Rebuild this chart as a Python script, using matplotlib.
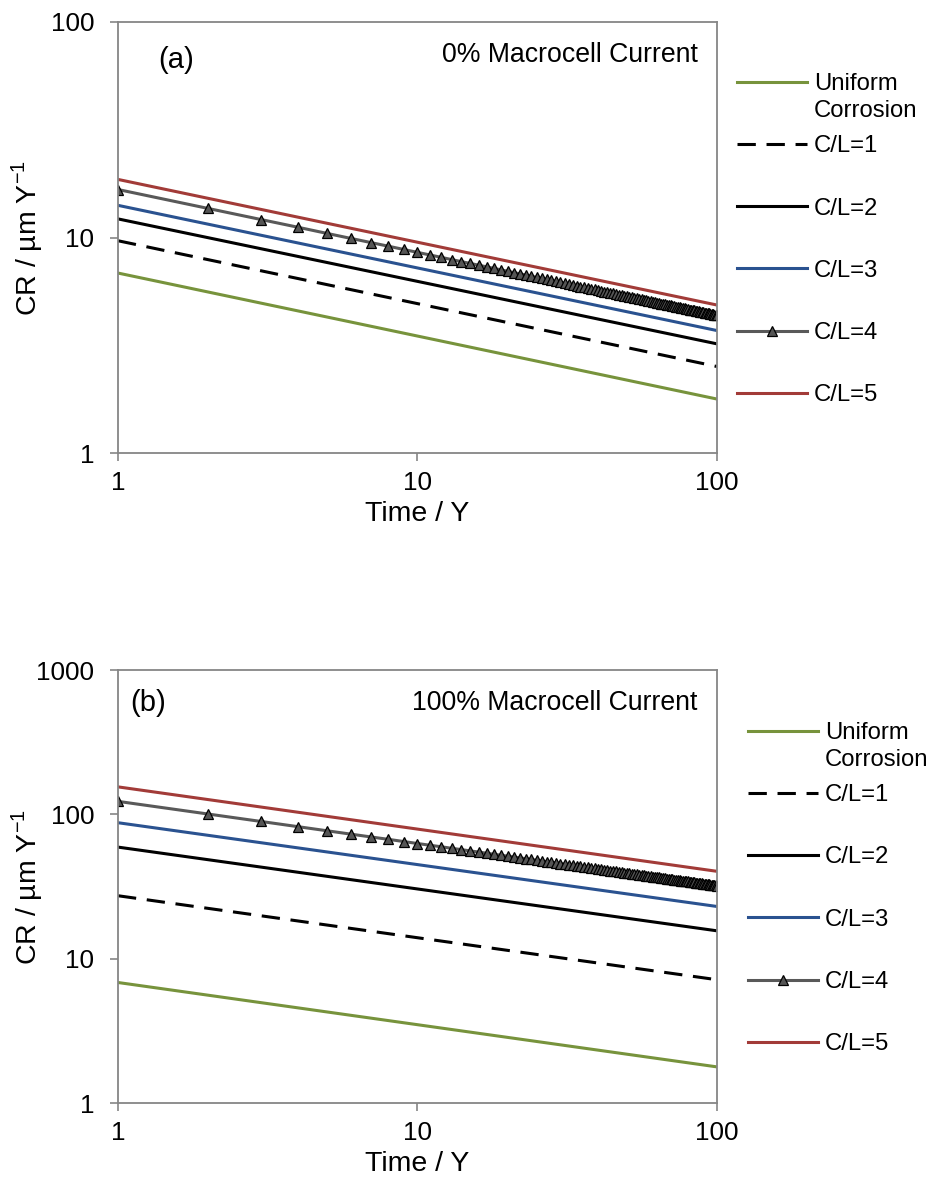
import matplotlib
matplotlib.use('Agg')
import matplotlib.pyplot as plt

plt.rcParams['font.family'] = ['Liberation Sans', 'DejaVu Sans']
plt.rcParams['mathtext.fontset'] = 'custom'
plt.rcParams['mathtext.rm'] = 'Liberation Sans'

# time axis (years)
years = list(range(1, 101))
ends = [1, 100]

# (a) 0% macrocell current - straight lines read at t=1 and t=100
uniform_a = [6.84, 1.78]
cl1_a = [9.66, 2.52]
cl2_a = [12.2, 3.21]
cl3_a = [14.1, 3.70]
cl5_a = [18.6, 4.86]
cl4_a = [16.70, 13.64, 12.12, 11.15, 10.44, 9.90, 9.47, 9.11, 8.80, 8.53,
         8.30, 8.09, 7.90, 7.73, 7.58, 7.44, 7.31, 7.19, 7.08, 6.97,
         6.87, 6.78, 6.69, 6.61, 6.53, 6.46, 6.39, 6.32, 6.25, 6.19,
         6.13, 6.08, 6.02, 5.97, 5.92, 5.87, 5.82, 5.78, 5.74, 5.69,
         5.65, 5.61, 5.58, 5.54, 5.50, 5.47, 5.43, 5.40, 5.37, 5.34,
         5.30, 5.27, 5.25, 5.22, 5.19, 5.16, 5.14, 5.11, 5.08, 5.06,
         5.03, 5.01, 4.99, 4.96, 4.94, 4.92, 4.90, 4.88, 4.86, 4.84,
         4.82, 4.80, 4.78, 4.76, 4.74, 4.72, 4.70, 4.69, 4.67, 4.65,
         4.63, 4.62, 4.60, 4.59, 4.57, 4.55, 4.54, 4.52, 4.51, 4.49,
         4.48, 4.47, 4.45, 4.44, 4.42, 4.41, 4.40, 4.38, 4.37, 4.36]

# (b) 100% macrocell current
uniform_b = [6.84, 1.78]
cl1_b = [27.3, 7.15]
cl2_b = [59.3, 15.6]
cl3_b = [87.5, 23.0]
cl5_b = [155.0, 40.3]
cl4_b = [123.0, 100.5, 89.3, 82.1, 76.9, 72.9, 69.7, 67.1, 64.8, 62.8,
         61.1, 59.6, 58.2, 57.0, 55.8, 54.8, 53.8, 52.9, 52.1, 51.3,
         50.6, 49.9, 49.3, 48.7, 48.1, 47.6, 47.0, 46.5, 46.1, 45.6,
         45.2, 44.8, 44.4, 44.0, 43.6, 43.2, 42.9, 42.6, 42.2, 41.9,
         41.6, 41.3, 41.1, 40.8, 40.5, 40.3, 40.0, 39.8, 39.5, 39.3,
         39.1, 38.8, 38.6, 38.4, 38.2, 38.0, 37.8, 37.6, 37.4, 37.3,
         37.1, 36.9, 36.7, 36.6, 36.4, 36.2, 36.1, 35.9, 35.8, 35.6,
         35.5, 35.3, 35.2, 35.0, 34.9, 34.8, 34.6, 34.5, 34.4, 34.3,
         34.1, 34.0, 33.9, 33.8, 33.7, 33.5, 33.4, 33.3, 33.2, 33.1,
         33.0, 32.9, 32.8, 32.7, 32.6, 32.5, 32.4, 32.3, 32.2, 32.1]

labels = ['Uniform', 'C/L=1', 'C/L=2', 'C/L=3', 'C/L=4', 'C/L=5']
panel_tags = ['(a)', '(b)']
panel_titles = ['0% Macrocell Current', '100% Macrocell Current']
yticks_a = [1, 10, 100]
yticks_b = [1, 10, 100, 1000]
xticks = [1, 10, 100]

c_green = '#77933C'
c_blue = '#2A5290'
c_red = '#A23B38'
c_gray = '#595959'
c_frame = '#868686'
lw = 2.2

fig = plt.figure(figsize=(9.32, 11.89), dpi=100)
ax_a = fig.add_axes([0.1266, 0.619, 0.6427, 0.3625])
ax_b = fig.add_axes([0.1266, 0.0723, 0.6427, 0.3642])

panels = [
    (ax_a, [uniform_a, cl1_a, cl2_a, cl3_a, cl4_a, cl5_a], yticks_a, (0.7908, 0.9386)),
    (ax_b, [uniform_b, cl1_b, cl2_b, cl3_b, cl4_b, cl5_b], yticks_b, (0.8026, 0.3928)),
]

for i, (ax, series, yticks, leg_pos) in enumerate(panels):
    h = []
    h.append(ax.plot(ends, series[0], color=c_green, lw=lw)[0])
    h.append(ax.plot(ends, series[1], color='black', lw=lw, linestyle=(0, (6, 3.5)))[0])
    h.append(ax.plot(ends, series[2], color='black', lw=lw)[0])
    h.append(ax.plot(ends, series[3], color=c_blue, lw=lw)[0])
    h.append(ax.plot(years, series[4], color=c_gray, lw=lw, marker='^', markersize=7.5,
                     markerfacecolor='#555555', markeredgecolor='black', markeredgewidth=0.9)[0])
    h.append(ax.plot(ends, series[5], color=c_red, lw=lw)[0])

    ax.set_xscale('log')
    ax.set_yscale('log')
    ax.set_xlim(1, 100)
    ax.set_ylim(yticks[0], yticks[-1])
    ax.set_xticks(xticks)
    ax.set_xticklabels([str(t) for t in xticks])
    ax.set_yticks(yticks)
    ax.set_yticklabels([str(t) for t in yticks])
    ax.minorticks_off()
    ax.tick_params(axis='both', which='major', direction='out', length=6, width=1.2,
                   color=c_frame, labelsize=18.8)
    ax.tick_params(axis='y', pad=11)
    ax.tick_params(axis='x', pad=7)
    for sp in ax.spines.values():
        sp.set_color(c_frame)
        sp.set_linewidth(1.3)

    ax.set_xlabel('Time / Y', fontsize=20.5, labelpad=4)
    ax.set_ylabel(r'CR / µm Y$^{\mathregular{-1}}$', fontsize=20.5)
    ax.yaxis.set_label_coords(-0.122, 0.5)

    ax.text(0.0668 if i == 0 else 0.02, 0.912 if i == 0 else 0.924, panel_tags[i],
            transform=ax.transAxes, fontsize=21, ha='left', va='center')
    ax.text(0.968, 0.923 if i == 0 else 0.924, panel_titles[i],
            transform=ax.transAxes, fontsize=19.2, ha='right', va='center')

    leg = ax.legend(h, labels, loc='upper left', bbox_to_anchor=leg_pos,
                    bbox_transform=fig.transFigure, frameon=False, borderpad=0,
                    borderaxespad=0, handlelength=2.95, handletextpad=0.26,
                    labelspacing=1.685, fontsize=17.2)
    ax.annotate('Corrosion', xy=(0, 0), xycoords=leg.get_texts()[0],
                xytext=(0, -5), textcoords='offset pixels', va='top', ha='left',
                fontsize=17.2, zorder=6, annotation_clip=False)

fig.savefig('out.png', dpi=100)
